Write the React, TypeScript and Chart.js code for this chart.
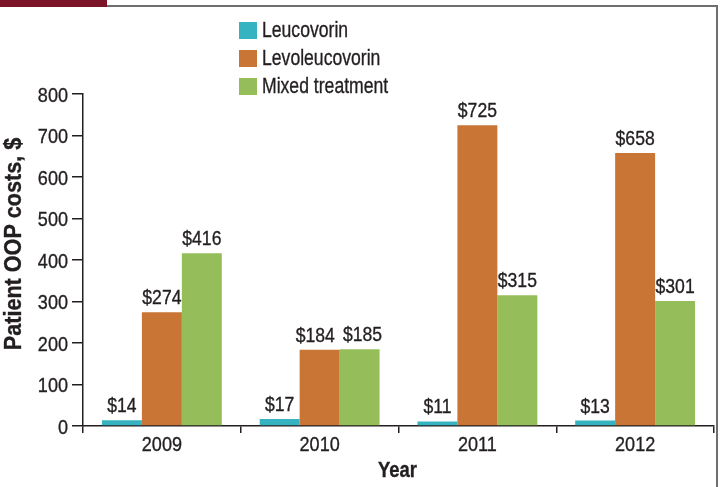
import React, { useEffect, useRef } from "react";
import { Chart, registerables } from "chart.js";
Chart.register(...registerables);

const years = ["2009", "2010", "2011", "2012"];
const leucovorin = [14, 17, 11, 13];
const levoleucovorin = [274, 184, 725, 658];
const mixedTreatment = [416, 185, 315, 301];
const seriesNames = ["Leucovorin", "Levoleucovorin", "Mixed treatment"];
const seriesColors = ["#35B3C1", "#C87535", "#95BD5A"];
const yMin = 0;
const yMax = 800;
const yStep = 100;
const yTitle = "Patient OOP costs, $";
const xTitle = "Year";

const FONT = "'Liberation Sans', Arial, sans-serif";
const TEXT = "#231f20";

function setFont(ctx: CanvasRenderingContext2D, size: number, weight: string) {
  ctx.font = `${weight} ${size}px ${FONT}`;
}

function drawText(ctx: CanvasRenderingContext2D, s: string, x: number, y: number, size: number, weight: string, sx: number, align: CanvasTextAlign) {
  ctx.save();
  setFont(ctx, size, weight);
  ctx.fillStyle = TEXT;
  ctx.strokeStyle = TEXT;
  ctx.lineWidth = 0.35;
  ctx.translate(x, y);
  ctx.scale(sx, 1);
  ctx.textAlign = align;
  ctx.textBaseline = "alphabetic";
  ctx.fillText(s, 0, 0);
  ctx.strokeText(s, 0, 0);
  ctx.restore();
}

const LABEL_SIZE = 20;
const LABEL_SX = 0.88;

const decorPlugin = {
  id: "decor",
  afterDraw(chart: any) {
    const ctx: CanvasRenderingContext2D = chart.ctx;
    const ca = chart.chartArea;
    ctx.save();
    ctx.fillStyle = "#7a1426";
    ctx.fillRect(0, 0, 107, 7);
    ctx.strokeStyle = "#6d6e70";
    ctx.lineWidth = 2;
    ctx.beginPath();
    ctx.moveTo(107, 6);
    ctx.lineTo(718, 6);
    ctx.moveTo(717, 5);
    ctx.lineTo(717, 487);
    ctx.stroke();
    ctx.restore();

    // legend
    seriesNames.forEach((name, i) => {
      ctx.fillStyle = seriesColors[i];
      ctx.fillRect(239, 22 + i * 28, 18, 17);
      drawText(ctx, name, 262, 37 + i * 28, 22, "normal", 0.8, "left");
    });

    // y tick labels
    const ys = chart.scales.y;
    ys.ticks.forEach((t: any) => {
      const py = ys.getPixelForValue(t.value);
      drawText(ctx, String(t.value), 68, py + 7.5, 21, "normal", 0.86, "right");
    });

    // x tick labels
    const xs = chart.scales.x;
    years.forEach((yr, i) => {
      drawText(ctx, yr, xs.getPixelForValue(i), 451, 21, "normal", 0.86, "center");
    });

    // data labels with simple overlap avoidance inside each category
    setFont(ctx, LABEL_SIZE, "normal");
    const nDs = chart.data.datasets.length;
    years.forEach((_, i) => {
      const items: { text: string; x: number; y: number; w: number }[] = [];
      for (let di = 0; di < nDs; di++) {
        const el: any = chart.getDatasetMeta(di).data[i];
        const text = "$" + chart.data.datasets[di].data[i];
        items.push({ text, x: el.x, y: el.y, w: ctx.measureText(text).width * LABEL_SX });
      }
      for (let k = 0; k < items.length - 1; k++) {
        const a = items[k], b = items[k + 1];
        if (Math.abs(a.y - b.y) < 24) {
          const overlap = a.x + a.w / 2 + 8 - (b.x - b.w / 2);
          if (overlap > 0) {
            a.x -= overlap * 0.6;
            b.x += overlap * 0.4;
          }
        }
      }
      items.forEach((it) => drawText(ctx, it.text, it.x, it.y - 8, LABEL_SIZE, "normal", LABEL_SX, "center"));
    });

    // axis titles
    ctx.save();
    ctx.translate(21, 244);
    ctx.rotate(-Math.PI / 2);
    drawText(ctx, yTitle, 0, 0, 24, "bold", 0.9, "center");
    ctx.restore();
    drawText(ctx, xTitle, (ca.left + ca.right) / 2 - 1, 477, 22, "bold", 0.84, "center");
  },
};

export default function App() {
  const ref = useRef<HTMLCanvasElement>(null);
  useEffect(() => {
    document.body.style.margin = "0";
    const chart = new Chart(ref.current!, {
      type: "bar",
      data: {
        labels: years,
        datasets: [
          { label: seriesNames[0], data: leucovorin, backgroundColor: seriesColors[0] },
          { label: seriesNames[1], data: levoleucovorin, backgroundColor: seriesColors[1] },
          { label: seriesNames[2], data: mixedTreatment, backgroundColor: seriesColors[2] },
        ],
      },
      options: {
        animation: false,
        responsive: false,
        devicePixelRatio: 1,
        layout: { padding: { top: 94, right: 7, left: 0, bottom: 0 } },
        datasets: { bar: { categoryPercentage: 0.76, barPercentage: 1.0 } },
        plugins: { legend: { display: false }, tooltip: { enabled: false } },
        scales: {
          x: {
            afterFit: (s: any) => { s.height = 61; },
            border: { color: TEXT, width: 1.5 },
            grid: { offset: true, drawOnChartArea: false, drawTicks: true, tickLength: 7, color: TEXT, lineWidth: 1.5 },
            ticks: { display: false },
          },
          y: {
            min: yMin,
            max: yMax,
            afterFit: (s: any) => { s.width = 83; },
            border: { color: TEXT, width: 1.5 },
            grid: { drawOnChartArea: false, drawTicks: true, tickLength: 11, color: TEXT, lineWidth: 1.5 },
            ticks: { display: false, stepSize: yStep },
          },
        },
      },
      plugins: [decorPlugin],
    } as any);
    return () => chart.destroy();
  }, []);
  return (
    <div style={{ position: "absolute", left: 0, top: 0, width: 721, height: 487, background: "#fff" }}>
      <canvas ref={ref} width={721} height={487} style={{ display: "block" }} />
    </div>
  );
}
